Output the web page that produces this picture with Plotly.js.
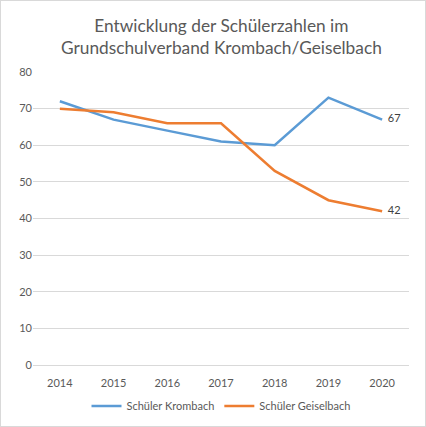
<!DOCTYPE html>
<html><head><meta charset="utf-8">
<script src="https://cdn.plot.ly/plotly-3.0.1.min.js"></script>
<style>html,body{margin:0;padding:0;background:#fff;}#c{width:424px;height:425px;border:1px solid #d9d9d9;}</style>
</head><body><div id="c"></div>
<script>
const years = ['2014','2015','2016','2017','2018','2019','2020'];
const krombach = [72, 67, 64, 61, 60, 73, 67];
const geiselbach = [70, 69, 66, 66, 53, 45, 42];
const yTicks = [0,10,20,30,40,50,60,70,80];
const titleText = 'Entwicklung der Schülerzahlen im<br>Grundschulverband Krombach/Geiselbach';
const lastLabel = arr => arr.map((v,i)=> i===arr.length-1 ? '  ' + v : '');
const font = 'Lato, "Open Sans", sans-serif';
const traces = [
  {x: years, y: krombach, name: 'Schüler Krombach', mode: 'lines+text', type: 'scatter',
   line: {color: '#5B9BD5', width: 2.5}, text: lastLabel(krombach), textposition: 'middle right',
   textfont: {size: 11, color: '#404040', family: font}, cliponaxis: false},
  {x: years, y: geiselbach, name: 'Schüler Geiselbach', mode: 'lines+text', type: 'scatter',
   line: {color: '#ED7D31', width: 2.5}, text: lastLabel(geiselbach), textposition: 'middle right',
   textfont: {size: 11, color: '#404040', family: font}, cliponaxis: false}
];
const layout = {
  width: 424, height: 425,
  margin: {l: 32, r: 16, t: 71, b: 61},
  paper_bgcolor: '#fff', plot_bgcolor: '#fff',
  font: {family: font, color: '#595959'},
  annotations: [{text: titleText, xref: 'paper', yref: 'paper', x: 0.5, xanchor: 'center',
    y: 1.122, yanchor: 'middle', showarrow: false, align: 'center',
    font: {size: 17.3, color: '#595959', family: font}}],
  xaxis: {type: 'category', range: [-0.5, 6.5], showgrid: false, zeroline: false, showline: false,
    ticks: 'outside', ticklen: 8, tickcolor: 'rgba(0,0,0,0)',
    tickfont: {size: 11, color: '#595959'}, fixedrange: true},
  yaxis: {range: [0, 80], tickvals: yTicks, showgrid: true, gridcolor: '#d9d9d9', gridwidth: 1,
    zeroline: true, zerolinecolor: '#d9d9d9', zerolinewidth: 1, showline: false, ticks: '',
    tickfont: {size: 11, color: '#595959'}, fixedrange: true},
  showlegend: true,
  legend: {orientation: 'h', x: 0.5, xanchor: 'center', yref: 'container', y: 0.047, yanchor: 'middle',
    font: {size: 11, color: '#595959'}, itemwidth: 30, tracegroupgap: 0}
};
Plotly.newPlot('c', traces, layout, {displayModeBar: false, staticPlot: true});
</script></body></html>
